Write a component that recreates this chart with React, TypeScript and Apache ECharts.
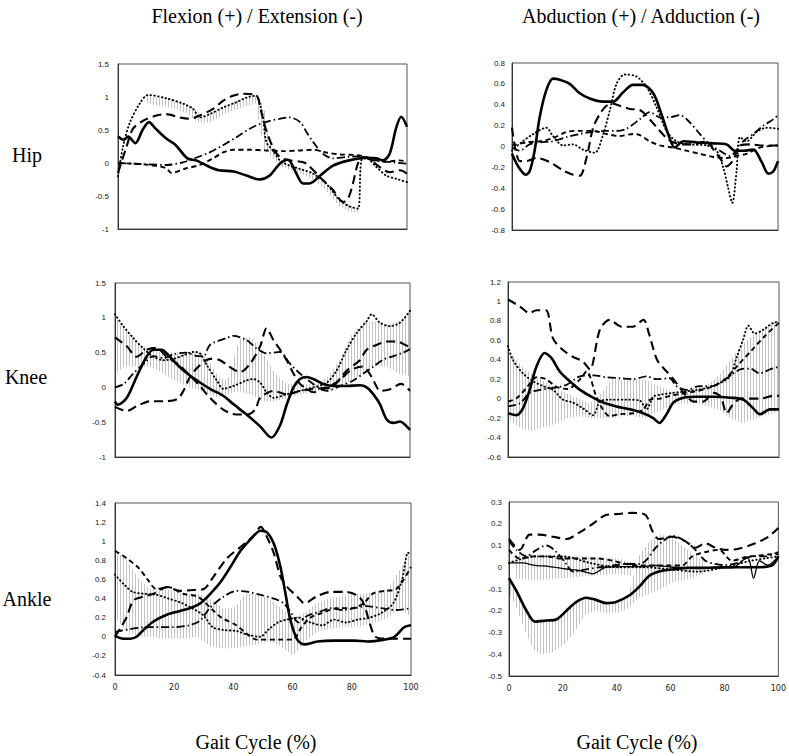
import React, { useEffect, useRef } from "react";
import * as echarts from "echarts";

type Pt = [number, number];
type Band = [number, number, number];

// ---------- Hip : Flexion / Extension ----------
const hipFlexSolid: Pt[] = [[0,0.4],[2,0.35],[3.5,0.4],[6,0.3],[8.5,0.5],[10.7,0.62],[13,0.52],[16.7,0.37],[20,0.27],[24,0.07],[27,0.04],[31.7,-0.06],[35,-0.11],[40,-0.13],[44.4,-0.19],[49,-0.25],[52.5,-0.19],[56,-0.01],[58.8,0.05],[61.7,-0.16],[64,-0.31],[66.3,-0.31],[70,-0.19],[74.4,-0.04],[80,0.04],[86,0.08],[89.4,0.07],[91.7,0.04],[94,0.14],[96.3,0.54],[98,0.7],[100,0.55]];
const hipFlexDotted: Pt[] = [[0,-0.2],[1.7,0.24],[4,0.6],[7.5,0.9],[10.4,1.03],[16.7,0.98],[22.5,0.9],[26,0.82],[28.3,0.69],[31.7,0.74],[36.3,0.84],[40.9,0.92],[44.4,0.99],[47.9,1.02],[49,0.9],[50.2,0.69],[51.3,0.32],[53.6,0.19],[56,0.04],[59.4,-0.04],[63,-0.09],[67.5,-0.16],[72,-0.31],[76.7,-0.56],[80.2,-0.66],[83,-0.69],[84.2,0.04],[86,0.07],[89.4,-0.06],[92.8,-0.19],[96.3,-0.24],[100,-0.29]];
const hipFlexLongDash: Pt[] = [[0,-0.15],[2.9,0.24],[5.2,0.52],[8.7,0.64],[13.3,0.72],[16.7,0.74],[21.3,0.69],[24.8,0.67],[28.3,0.72],[32.9,0.82],[36.3,0.94],[39.8,1.02],[43.3,1.05],[46.7,1.04],[48.4,0.99],[49.6,0.77],[51.3,0.49],[53.6,0.24],[56,0.09],[59.4,0.04],[63,0.02],[65.2,-0.01],[69.8,-0.21],[74.4,-0.41],[77.9,-0.59],[79.6,-0.54],[81.3,-0.31],[83,-0.01],[84.8,0.09],[87.1,0.06],[90.5,-0.06],[94,-0.14],[97.5,-0.11],[100,-0.16]];
const hipFlexDashDot: Pt[] = [[0,0],[5,-0.01],[10,-0.02],[16.7,-0.03],[22.5,0.01],[27,0.08],[31.7,0.16],[36.3,0.27],[41,0.39],[45.6,0.52],[49,0.59],[52.5,0.64],[56,0.67],[59.4,0.69],[63,0.62],[65.2,0.47],[67.5,0.32],[70.9,0.14],[74.4,0.07],[79,0.09],[83.6,0.1],[88.2,0.04],[92.8,0.02],[100,-0.01]];
const hipFlexShortDash: Pt[] = [[0,0],[5,-0.01],[11,-0.03],[16.7,-0.08],[18.5,-0.15],[23.6,-0.08],[28.3,-0.03],[32.9,0.07],[36.3,0.16],[39.8,0.2],[45.6,0.2],[51.3,0.19],[57,0.18],[63,0.19],[67.5,0.2],[72,0.16],[76.7,0.13],[82.5,0.12],[86,0.09],[89.4,0.04],[92.8,0.02],[97.5,0.04],[100,0.02]];
const hipFlexBand: Band[] = [[9,0.92,1.02],[12,0.88,1.0],[16,0.86,0.98],[20,0.82,0.94],[24,0.75,0.88],[27,0.62,0.8],[29,0.6,0.7],[32,0.62,0.75],[36,0.72,0.84],[40,0.8,0.92],[44,0.86,0.99],[47.5,0.9,1.02],[49,0.5,0.95],[50.5,0.2,0.8],[52,0.15,0.4],[54,0.05,0.2],[56,-0.05,0.04],[60,-0.12,-0.04],[64,-0.18,-0.1],[68,-0.27,-0.16],[72,-0.42,-0.31],[76,-0.64,-0.52],[80,-0.74,-0.64],[83,-0.75,-0.68]];

// ---------- Hip : Abduction / Adduction ----------
const hipAbdSolid: Pt[] = [[0,-0.07],[2.3,-0.19],[5.1,-0.27],[6.6,-0.24],[8.5,-0.04],[10.4,0.28],[12.9,0.54],[15.4,0.65],[17.9,0.64],[21.7,0.6],[25.5,0.51],[29.2,0.46],[34.2,0.43],[38,0.43],[41.8,0.52],[45.5,0.59],[49.3,0.59],[53.1,0.51],[56.2,0.31],[58.7,0.12],[61.2,-0.01],[64.4,0.05],[69.4,0.04],[75.7,0.03],[80.7,0.02],[83.8,-0.04],[87,-0.04],[90.7,-0.03],[93.9,-0.15],[96.4,-0.26],[98.2,-0.24],[100,-0.14]];
const hipAbdDotted: Pt[] = [[0,-0.04],[4,0.05],[8,0.12],[12.9,0.18],[15.4,0.1],[19.2,0.01],[23,0.02],[26.7,-0.03],[31.1,-0.06],[34.3,0.12],[36.8,0.35],[39.3,0.6],[42.4,0.69],[46.8,0.67],[50.6,0.57],[54.3,0.38],[58.1,0.15],[61.8,0.05],[66.9,0.02],[73.2,0.01],[76.9,-0.04],[79.4,-0.2],[81.3,-0.4],[82.8,-0.54],[84.4,-0.24],[85.7,0.09],[88.2,0.05],[92,0.14],[95.7,0.18],[100,0.17]];
const hipAbdLongDash: Pt[] = [[0,0.18],[2.9,-0.14],[5.4,-0.14],[9.2,-0.11],[14.2,-0.15],[19.2,-0.23],[22.9,-0.27],[25.5,-0.28],[28,-0.11],[30.5,0.18],[33,0.31],[35.5,0.39],[38,0.41],[40.5,0.39],[44.3,0.36],[48,0.35],[51.8,0.26],[54.9,0.17],[58.1,0.08],[60.6,0.04],[64.4,0.02],[68.1,0.02],[73.2,0.05],[75.7,-0.03],[78.2,-0.11],[80.7,-0.19],[83.2,-0.13],[85.7,0.01],[89.5,0.02],[94.5,0.01],[100,0.01]];
const hipAbdDashDot: Pt[] = [[0,-0.01],[2.9,-0.04],[6.6,0.02],[10.4,0.04],[15.4,0.05],[20.5,0.09],[25.5,0.12],[30.5,0.14],[35.5,0.15],[39.3,0.15],[43,0.17],[48,0.26],[51.8,0.33],[55.6,0.28],[59.3,0.28],[63.1,0.3],[66.9,0.23],[70.6,0.12],[74.4,0.02],[78.2,-0.04],[81.9,-0.09],[84.4,-0.04],[86.9,0.05],[90.7,0.12],[94.5,0.2],[98.2,0.26],[100,0.3]];
const hipAbdShortDash: Pt[] = [[0,0.01],[5.4,0.04],[10.4,0.05],[15.4,0.08],[20.5,0.14],[25.5,0.15],[30.5,0.15],[35.5,0.12],[40.5,0.1],[45.5,0.12],[48,0.11],[51.8,0.05],[55.6,0.01],[60.6,-0.01],[65.6,-0.04],[70.6,-0.07],[75.7,-0.1],[80.7,-0.11],[84.4,-0.09],[88.2,-0.07],[93.2,-0.01],[100,0.01]];

// ---------- Knee : Flexion / Extension ----------
const kneeFlexSolid: Pt[] = [[0,-0.2],[1,-0.25],[4,-0.15],[7.3,0.15],[10.7,0.44],[13,0.54],[15.8,0.54],[18.6,0.44],[22,0.29],[25.4,0.17],[28.8,0.07],[32.2,-0.02],[36.7,-0.12],[40.1,-0.24],[44.6,-0.39],[49.2,-0.56],[53,-0.72],[55.9,-0.55],[58.2,-0.25],[60.5,0],[62.7,0.12],[65,0.15],[67.2,0.12],[70.6,0.05],[74,0.02],[78.5,0.02],[83.1,0.03],[85.3,0],[87.6,-0.1],[89.8,-0.24],[92.1,-0.46],[94.4,-0.51],[96.6,-0.49],[98.9,-0.56],[100,-0.61]];
const kneeFlexDotted: Pt[] = [[0,1.05],[2.8,0.88],[6.2,0.71],[9.6,0.56],[13,0.44],[16.4,0.39],[19.8,0.41],[23.2,0.46],[26.6,0.51],[28.8,0.49],[31.1,0.32],[34.5,0.1],[36.7,-0.02],[40.1,0.02],[44.6,0.1],[46.9,0.12],[49.2,0.07],[51.4,-0.07],[53.7,-0.15],[58.2,-0.1],[62.7,-0.05],[67.2,0],[71.8,0.07],[75.1,0.24],[78.5,0.54],[81.9,0.78],[85.3,0.95],[87,1.05],[89.8,0.93],[93.2,0.88],[96.6,0.93],[100,1.1]];
const kneeFlexLongDashA: Pt[] = [[0,0.72],[4,0.59],[7.3,0.44],[10.7,0.54],[14,0.57],[17.5,0.44],[21.8,0.32],[25.4,0.17],[28.8,0.02],[32.2,-0.15],[36.7,-0.32],[41,-0.39],[44.6,-0.39],[47.5,-0.32],[49.2,-0.15],[53.7,-0.05],[58.2,-0.1],[62.7,-0.05],[67.2,-0.02],[71.8,0.0],[76,0.1],[80,0.25],[84,0.3],[87,0.15],[90,-0.05],[93,-0.03],[97,0.05],[100,-0.05]];
const kneeFlexLongDashB: Pt[] = [[0,-0.28],[4,-0.34],[7.3,-0.27],[12,-0.2],[16.4,-0.2],[21,-0.17],[23.2,-0.05],[25.4,0.15],[28.8,0.32],[32.2,0.41],[35.6,0.39],[39,0.29],[42.4,0.22],[45.8,0.34],[49.2,0.59],[51.4,0.85],[53.7,0.68],[56,0.54],[58.2,0.39],[60.5,0.2],[62.7,0.05],[65,-0.02],[67.2,-0.07],[70,-0.03],[74,0.02],[78.5,0.24],[83,0.39],[85.3,0.54],[88.7,0.61],[92.1,0.66],[95.5,0.66],[98.9,0.6],[100,0.58]];
const kneeFlexDashDot: Pt[] = [[0,0],[3,0.05],[6.2,0.2],[10.7,0.38],[13,0.45],[16.4,0.42],[20,0.48],[24,0.5],[28,0.45],[30,0.45],[32.2,0.61],[37.8,0.71],[40.1,0.74],[44.6,0.68],[48,0.56],[51.4,0.49],[55.9,0.51],[59.3,0.34],[62.7,0.2],[67.2,0.05],[71.8,-0.05],[76.3,0.02],[80.8,0.1],[84.2,0.2],[87.6,0.3],[91,0.4],[94.4,0.45],[97.7,0.5],[100,0.55]];
const kneeFlexBand: Band[] = [[0,0.2,1.0],[3,0.3,0.85],[6,0.3,0.7],[9,0.3,0.6],[12,0.3,0.55],[16,0.2,0.5],[20,0.1,0.5],[25,0.0,0.5],[29,-0.05,0.5],[32,-0.1,0.35],[35,-0.15,0.15],[38,-0.1,0.1],[42,-0.05,0.7],[46,-0.1,0.72],[50,-0.2,0.5],[54,-0.2,0.2],[58,-0.15,0.05],[63,-0.1,0.05],[68,-0.05,0.05],[72,-0.05,0.15],[76,0.0,0.4],[80,0.1,0.75],[84,0.2,0.95],[88,0.3,0.95],[92,0.3,0.9],[96,0.2,0.95],[100,0.15,1.1]];

// ---------- Knee : Abduction / Adduction ----------
const kneeAbdSolid: Pt[] = [[0,-0.15],[3.1,-0.17],[5.5,-0.1],[8,0.09],[10.5,0.33],[13.5,0.47],[16,0.42],[19.1,0.28],[22.8,0.18],[26.6,0.09],[31.4,0.01],[35.1,-0.04],[40,-0.08],[45,-0.11],[49.9,-0.15],[53.6,-0.2],[55.8,-0.25],[58.5,-0.16],[61,-0.04],[64.7,0.01],[69.6,0.02],[75.7,0.02],[81.9,0.01],[86.8,-0.01],[90.5,-0.1],[93,-0.16],[96.7,-0.11],[100,-0.11]];
const kneeAbdDotted: Pt[] = [[0,0.54],[1.8,0.4],[5.5,0.26],[9.2,0.18],[12.9,0.13],[16.6,0.09],[20.3,-0.01],[24,-0.04],[27.7,-0.1],[31.4,-0.17],[33.9,-0.03],[37.6,-0.01],[43.7,-0.01],[48.6,-0.02],[51.1,-0.11],[53.6,0.02],[56,0.04],[61,0.06],[67.1,0.08],[73.3,0.11],[78.2,0.16],[81.9,0.23],[84.4,0.43],[86.8,0.61],[88.7,0.75],[91.1,0.67],[94.2,0.71],[97.9,0.78],[100,0.79]];
const kneeAbdLongDash: Pt[] = [[0,1.02],[4.3,0.95],[8,0.88],[10.5,0.91],[14,0.91],[16.6,0.62],[20.3,0.5],[24,0.43],[27.7,0.38],[30.2,0.3],[33.9,0.71],[37.5,0.81],[42,0.74],[46,0.74],[50,0.81],[52,0.67],[55,0.4],[58.5,0.28],[61,0.2],[63.5,0.11],[66,0.02],[68.5,-0.03],[72,-0.03],[76,0.06],[78.5,0.02],[80.7,-0.15],[83,-0.06],[86,0.0],[93,0.0],[98,0.03],[100,0.03]];
const kneeAbdDashDot: Pt[] = [[0,-0.08],[4.3,-0.05],[8,0.06],[11.7,0.09],[16.6,0.11],[21.4,0.14],[26.6,0.23],[31.5,0.24],[36.4,0.22],[41.3,0.21],[46.2,0.2],[51.1,0.23],[54.7,0.2],[59.7,0.21],[62.1,0.13],[65.8,0.09],[70.7,0.13],[75.6,0.13],[80.7,0.21],[85.6,0.3],[89.3,0.31],[92.9,0.26],[96.6,0.3],[100,0.33]];
const kneeAbdShortDash: Pt[] = [[0,-0.03],[3,0.0],[6.8,0.11],[10.5,0.22],[14,0.2],[18,0.12],[22,0.1],[26.6,0.2],[29,0.28],[32.6,0.02],[35,-0.11],[37.5,-0.18],[41,-0.16],[46,-0.15],[50,-0.11],[52.4,-0.01],[56,0.0],[60,0.03],[64,0.05],[70,0.08],[75,0.12],[80,0.2],[85,0.35],[90,0.5],[95,0.65],[100,0.78]];
const kneeAbdBand: Band[] = [[0,-0.2,0.5],[3,-0.28,0.4],[6,-0.32,0.3],[9,-0.33,0.25],[12,-0.3,0.2],[15,-0.28,0.15],[18,-0.25,0.1],[22,-0.2,0.05],[26,-0.18,0.0],[30,-0.2,-0.05],[34,-0.2,0.05],[38,-0.2,0.2],[42,-0.18,0.2],[46,-0.18,0.2],[50,-0.2,0.2],[54,-0.15,0.15],[58,-0.1,0.1],[62,-0.05,0.05],[66,-0.05,0.1],[70,-0.05,0.12],[74,-0.08,0.15],[78,-0.12,0.25],[82,-0.2,0.4],[86,-0.25,0.55],[90,-0.22,0.65],[94,-0.18,0.72],[98,-0.15,0.78],[100,-0.1,0.8]];

// ---------- Ankle : Flexion / Extension ----------
const ankleFlexSolid: Pt[] = [[0,0.01],[2.8,-0.02],[5.1,-0.02],[7.3,0],[9.6,0.07],[13,0.16],[17.5,0.23],[22,0.27],[25.4,0.3],[28.8,0.35],[32.2,0.45],[35.6,0.57],[39,0.73],[42.4,0.9],[45.8,1.02],[49.2,1.11],[51.4,1.09],[53.7,0.97],[55.9,0.73],[57.6,0.45],[59.3,0.17],[61.6,-0.03],[63.8,-0.08],[68.4,-0.05],[74,-0.04],[80.8,-0.04],[85.3,-0.05],[91,-0.03],[94.4,0],[97.7,0.1],[100,0.12]];
const ankleFlexDotted: Pt[] = [[0,0.65],[3,0.55],[6,0.47],[10,0.45],[14,0.44],[18,0.4],[22,0.36],[26,0.3],[30,0.22],[33,0.1],[37,0.07],[41,0.06],[45,0.02],[49,0],[52,0.08],[55,0.15],[58,0.18],[62,0.2],[66,0.15],[70,0.12],[74,0.18],[78,0.15],[82,0.18],[86,0.2],[90,0.25],[94,0.35],[97,0.6],[99,0.88],[100,0.85]];
const ankleFlexLongDash: Pt[] = [[0,0],[2,0.1],[4,0.21],[6.2,0.38],[9.6,0.42],[13,0.45],[17.5,0.52],[22,0.48],[26.6,0.49],[30,0.5],[33.3,0.63],[37.8,0.82],[42.4,0.94],[46.9,1.06],[49.2,1.15],[51.4,1.04],[53.7,0.87],[55.9,0.63],[58.2,0.52],[61.6,0.42],[64,0.35],[68,0.42],[73,0.47],[78,0.47],[82,0.43],[84,0.35],[86,0.15],[88,0.0],[92,-0.02],[100,-0.02]];
const ankleFlexDashDot: Pt[] = [[0,0.05],[5,0.08],[10,0.1],[15,0.1],[20,0.1],[25,0.12],[28.8,0.17],[32,0.3],[36.7,0.42],[41,0.48],[45,0.47],[49,0.44],[53.7,0.4],[57,0.35],[59.5,0.25],[62,0.15],[65,0.22],[69,0.26],[73,0.3],[77,0.28],[81,0.3],[85,0.32],[90,0.3],[95,0.28],[100,0.3]];
const ankleFlexShortDash: Pt[] = [[0,0.9],[4,0.82],[8,0.72],[11,0.6],[14,0.5],[18,0.52],[23,0.45],[28,0.42],[33,0.28],[36,0.2],[41,0.12],[45,0.02],[48,-0.03],[55,-0.03],[60,-0.03],[63,0.1],[66,0.2],[70,0.25],[75,0.3],[80,0.3],[84,0.35],[87,0.45],[91,0.48],[95,0.5],[100,0.73]];
const ankleFlexBand: Band[] = [[0,0.2,0.9],[4,0.05,0.8],[8,0.0,0.6],[12,0.0,0.5],[16,-0.02,0.5],[20,-0.02,0.48],[24,-0.02,0.45],[28,0.0,0.45],[32,-0.1,0.4],[36,-0.12,0.3],[40,-0.12,0.3],[44,-0.1,0.45],[48,-0.08,0.45],[52,-0.05,0.4],[56,-0.1,0.3],[60,-0.2,0.2],[64,-0.05,0.25],[68,0.05,0.35],[72,0.08,0.4],[76,0.1,0.42],[80,0.1,0.45],[84,0.12,0.45],[88,0.15,0.48],[92,0.2,0.5],[96,0.3,0.7],[100,0.2,0.9]];

// ---------- Ankle : Abduction / Adduction ----------
const ankleAbdSolid: Pt[] = [[0,-0.05],[2.8,-0.11],[6.5,-0.2],[9.6,-0.25],[13.9,-0.245],[17.6,-0.24],[21.3,-0.2],[24.9,-0.16],[28.7,-0.14],[32.3,-0.15],[36,-0.165],[39.7,-0.16],[44.6,-0.13],[48.3,-0.09],[52,-0.04],[55.7,-0.02],[60.6,-0.01],[66.8,-0.003],[73,-0.003],[79.1,0],[85.2,0],[91.4,0],[97.5,0.008],[100,0.05]];
const ankleAbdThin: Pt[] = [[0,0.02],[5.3,0.02],[9,0.01],[15,0.003],[21.3,-0.008],[26.2,-0.015],[31.1,-0.03],[36,0],[42.3,0.003],[48.3,0.003],[54.5,0.008],[60.6,0],[70.4,-0.003],[82.7,-0.003],[88.5,0.046],[90.8,-0.05],[93,0.03],[96,0.01],[100,0.05]];
const ankleAbdLongDash: Pt[] = [[0,0.13],[4,0.08],[7.7,0.15],[11.4,0.15],[16.4,0.14],[21.3,0.13],[26.2,0.16],[31.1,0.2],[36,0.24],[40.8,0.245],[45.8,0.25],[50.7,0.24],[53.1,0.17],[55.5,0.13],[60.4,0.14],[65.4,0.12],[69.2,0.09],[72.9,0.11],[76.6,0.09],[80.3,0.08],[85.2,0.085],[91.4,0.11],[96.3,0.14],[100,0.18]];
const ankleAbdDashDot: Pt[] = [[0,0.12],[2.8,0.08],[6.5,0.05],[10.2,0.08],[13.9,0.1],[17.6,0.07],[21.3,0.015],[23.7,-0.02],[28.7,-0.01],[33.6,0],[38.5,0.008],[43.5,0.015],[48.3,0.015],[50.8,0.03],[54.5,0.09],[58.2,0.13],[60.6,0.145],[65.4,0.12],[69.2,0.08],[72.9,0.03],[76.6,0.015],[80,0.01],[85,0.02],[90,0.05],[95,0.05],[100,0.07]];
const ankleAbdShortDash: Pt[] = [[0,0.08],[4,0.04],[9,0.05],[14,0.05],[19.2,0.04],[24,0.04],[29,0.04],[33,0.04],[38.5,0.03],[43.5,0.015],[48.3,0.008],[54.5,0.008],[60.6,0.008],[64.3,0.008],[68,0.05],[72.9,0.07],[77.9,0.08],[82.8,0.03],[87.7,0.046],[92.7,0.054],[97.6,0.06],[100,0.06]];
const ankleAbdDotted: Pt[] = [[0,0.02],[10,0.05],[20,0.05],[30,0.02],[40,0.0],[50,0.0],[60,-0.01],[70,-0.02],[80,0.0],[90,0.03],[100,0.05]];
const ankleAbdBand: Band[] = [[0,-0.12,-0.04],[3,-0.2,-0.12],[6,-0.3,-0.19],[9,-0.38,-0.24],[12,-0.4,-0.245],[16,-0.39,-0.24],[20,-0.36,-0.21],[24,-0.3,-0.17],[28,-0.22,-0.14],[32,-0.2,-0.15],[36,-0.21,-0.16],[40,-0.21,-0.16],[44,-0.19,-0.13],[48,-0.14,0.05],[52,-0.12,0.12],[56,-0.1,0.15],[60,-0.07,0.14],[64,-0.06,0.1],[68,-0.05,0.06],[72,-0.03,0.03]];
const ankleAbdBand2: Band[] = [[2,-0.05,0.06],[10,-0.06,0.06],[20,-0.05,0.05],[30,-0.04,0.05],[40,-0.03,0.04],[46,-0.04,0.02]];

// ---------- Axes ----------
const xTicks = [0, 20, 40, 60, 80, 100];
const yRanges: [number, number, number][] = [
  [-1, 1.5, 0.5],
  [-0.8, 0.8, 0.2],
  [-1, 1.5, 0.5],
  [-0.6, 1.2, 0.2],
  [-0.4, 1.4, 0.2],
  [-0.5, 0.3, 0.1],
];
const columnTitles = ["Flexion (+) / Extension (-)", "Abduction (+) / Adduction (-)"];
const rowTitles = ["Hip", "Knee", "Ankle"];
const xTitle = "Gait Cycle (%)";

const STY: Record<string, any> = {
  solid: { width: 2.6, type: "solid" },
  thin: { width: 1.3, type: "solid" },
  dotted: { width: 1.9, type: [0.5, 3.3], cap: "round" },
  longDash: { width: 2.1, type: [9, 5] },
  dashDot: { width: 1.8, type: [8, 3, 1.5, 3] },
  shortDash: { width: 1.9, type: [5, 3.5] },
};

const panels: { lines: [Pt[], string][]; bands: Band[][] }[] = [
  { lines: [[hipFlexDashDot, "dashDot"], [hipFlexShortDash, "shortDash"], [hipFlexLongDash, "longDash"], [hipFlexDotted, "dotted"], [hipFlexSolid, "solid"]], bands: [hipFlexBand] },
  { lines: [[hipAbdDashDot, "dashDot"], [hipAbdShortDash, "shortDash"], [hipAbdLongDash, "longDash"], [hipAbdDotted, "dotted"], [hipAbdSolid, "solid"]], bands: [] },
  { lines: [[kneeFlexDashDot, "dashDot"], [kneeFlexLongDashA, "longDash"], [kneeFlexLongDashB, "longDash"], [kneeFlexDotted, "dotted"], [kneeFlexSolid, "solid"]], bands: [kneeFlexBand] },
  { lines: [[kneeAbdDashDot, "dashDot"], [kneeAbdShortDash, "shortDash"], [kneeAbdLongDash, "longDash"], [kneeAbdDotted, "dotted"], [kneeAbdSolid, "solid"]], bands: [kneeAbdBand] },
  { lines: [[ankleFlexDashDot, "dashDot"], [ankleFlexShortDash, "shortDash"], [ankleFlexLongDash, "longDash"], [ankleFlexDotted, "dotted"], [ankleFlexSolid, "solid"]], bands: [ankleFlexBand] },
  { lines: [[ankleAbdDotted, "dotted"], [ankleAbdDashDot, "dashDot"], [ankleAbdShortDash, "shortDash"], [ankleAbdLongDash, "longDash"], [ankleAbdThin, "thin"], [ankleAbdSolid, "solid"]], bands: [ankleAbdBand, ankleAbdBand2] },
];

const grids = [
  { left: 118, top: 64, width: 289, height: 165 },
  { left: 512, top: 63, width: 266, height: 167 },
  { left: 115, top: 283, width: 295, height: 174 },
  { left: 508, top: 282, width: 271, height: 175 },
  { left: 115, top: 503, width: 296, height: 172 },
  { left: 509, top: 502, width: 271, height: 174 },
];

function hatch(params: any, api: any) {
  const a = api.coord([api.value(0), api.value(1)]);
  const b = api.coord([api.value(0), api.value(2)]);
  const c = api.coord([api.value(3), api.value(4)]);
  const d = api.coord([api.value(3), api.value(5)]);
  const step = 3;
  const children: any[] = [];
  const span = c[0] - a[0] || 1;
  for (let px = Math.ceil(a[0] / step) * step; px < c[0]; px += step) {
    const t = (px - a[0]) / span;
    const yl = a[1] + (c[1] - a[1]) * t;
    const yh = b[1] + (d[1] - b[1]) * t;
    children.push({
      type: "line",
      shape: { x1: px + 0.5, y1: yl, x2: px + 0.5, y2: yh },
      style: { stroke: "#c2c2c2", lineWidth: 1 },
      silent: true,
    });
  }
  return { type: "group", children };
}

const fmt = (v: number) => String(Math.round(v * 10) / 10);

export default function App() {
  const ref = useRef<HTMLDivElement>(null);
  useEffect(() => {
    if (!ref.current) return;
    const chart = echarts.init(ref.current, undefined, { renderer: "svg" });
    const series: any[] = [];
    panels.forEach((p, i) => {
      p.bands.forEach((band) => {
        const segs = band.slice(0, -1).map((b, k) => [b[0], b[1], b[2], band[k + 1][0], band[k + 1][1], band[k + 1][2]]);
        series.push({
          type: "custom",
          xAxisIndex: i,
          yAxisIndex: i,
          renderItem: hatch,
          data: segs,
          z: 1,
          silent: true,
          clip: true,
        });
      });
      p.lines.forEach(([data, sty]) => {
        const s = STY[sty];
        series.push({
          type: "line",
          xAxisIndex: i,
          yAxisIndex: i,
          data,
          showSymbol: false,
          symbol: "none",
          smooth: 0.3,
          silent: true,
          z: sty === "solid" ? 4 : 3,
          lineStyle: { color: "#000", width: s.width, type: s.type, cap: s.cap || "butt" },
        });
      });
    });
    const textStyle = { fill: "#000", font: '20px "Liberation Serif"', textAlign: "center", textVerticalAlign: "middle" };
    chart.setOption({
      animation: false,
      grid: grids.map((g) => ({ ...g, show: true, borderColor: "#555", borderWidth: 1, backgroundColor: "transparent" })),
      xAxis: grids.map((_, i) => ({
        type: "value",
        gridIndex: i,
        min: 0,
        max: 100,
        interval: 20,
        axisLine: { show: true, onZero: false, lineStyle: { color: "#333", width: 1 } },
        axisTick: { show: false },
        splitLine: { show: false },
        axisLabel: { show: i >= 4, fontSize: 8, fontFamily: "DejaVu Sans", color: "#222", margin: 8, formatter: (v: number) => (xTicks.includes(v) ? String(v) : "") },
      })),
      yAxis: grids.map((_, i) => ({
        type: "value",
        gridIndex: i,
        min: yRanges[i][0],
        max: yRanges[i][1],
        interval: yRanges[i][2],
        axisLine: { show: true, onZero: false, lineStyle: { color: "#333", width: 1 } },
        axisTick: { show: false },
        splitLine: { show: false },
        axisLabel: { fontSize: 8, fontFamily: "Liberation Sans", color: "#222", margin: i % 2 === 0 ? 9 : 7, formatter: fmt },
      })),
      series,
      graphic: [
        { type: "text", x: 257, y: 16, style: { ...textStyle, text: columnTitles[0] } },
        { type: "text", x: 641, y: 16, style: { ...textStyle, text: columnTitles[1] } },
        { type: "text", x: 27, y: 155, style: { ...textStyle, text: rowTitles[0] } },
        { type: "text", x: 26, y: 377, style: { ...textStyle, text: rowTitles[1] } },
        { type: "text", x: 27, y: 599, style: { ...textStyle, text: rowTitles[2] } },
        { type: "text", x: 256, y: 742, style: { ...textStyle, text: xTitle } },
        { type: "text", x: 637, y: 742, style: { ...textStyle, text: xTitle } },
      ],
    });
    return () => chart.dispose();
  }, []);
  return <div ref={ref} style={{ position: "absolute", left: 0, top: 0, width: 789, height: 756, background: "#fff" }} />;
}
